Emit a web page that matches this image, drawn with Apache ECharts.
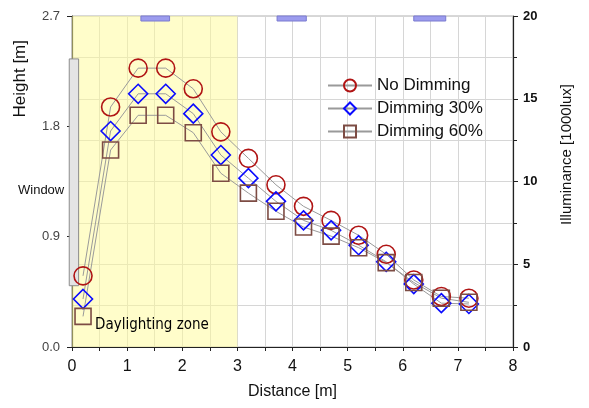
<!DOCTYPE html>
<html>
<head>
<meta charset="utf-8">
<script src="https://cdn.jsdelivr.net/npm/echarts@6/dist/echarts.min.js"></script>
<style>
  html, body { margin: 0; padding: 0; background: #fff; }
  #chart { width: 589px; height: 408px; }
</style>
</head>
<body>
<div id="chart"></div>
<script>
// distance from window [m]
var distance = [0.2, 0.7, 1.2, 1.7, 2.2, 2.7, 3.2, 3.7, 4.2, 4.7, 5.2, 5.7, 6.2, 6.7, 7.2];
// illuminance [1000lux]
var noDimming = [4.3, 14.5, 16.85, 16.85, 15.6, 13.0, 11.4, 9.8, 8.5, 7.65, 6.75, 5.6, 4.05, 3.05, 2.95];
var dimming30 = [2.9, 13.05, 15.3, 15.3, 14.1, 11.6, 10.2, 8.8, 7.65, 7.05, 6.15, 5.15, 3.8, 2.65, 2.6];
var dimming60 = [1.85, 11.9, 14.0, 14.0, 12.95, 10.5, 9.3, 8.2, 7.25, 6.7, 6.0, 5.1, 3.9, 2.95, 2.7];
var seriesNames = ['No Dimming', 'Dimming 30%', 'Dimming 60%'];
var heightTicks = [0, 0.9, 1.8, 2.7];
// luminaires on the ceiling [from, to] in m
var lamps = [[1.25, 1.77], [3.72, 4.25], [6.2, 6.78]];
// window [x0, x1, bottom, top] in m
var windowBox = [[-0.05, 0.12, 0.5, 2.35]];
var zone = [0, 3];

function pairs(ys) {
	var out = [];
	for (var i = 0; i < distance.length; i++) {
		out.push([distance[i], ys[i]]);
	}
	return out;
}

function dataSeries(name, ys, symbol, size, color) {
	return {
		name: name,
		type: 'line',
		yAxisIndex: 1,
		data: pairs(ys),
		symbol: symbol,
		symbolSize: size,
		showAllSymbol: true,
		lineStyle: { color: '#9a9a9a', width: 1 },
		itemStyle: { color: 'rgba(0,0,0,0)', borderColor: color, borderWidth: 1.6 },
		emphasis: { disabled: true },
		z: 3
	};
}

var chart = echarts.init(document.getElementById('chart'), null, { renderer: 'canvas' });

var option = {
	animation: false,
	backgroundColor: '#fff',
	textStyle: { fontFamily: 'Liberation Sans, Arial, sans-serif' },
	grid: {
		left: 72, right: 76, top: 16, bottom: 61,
		show: true, borderColor: '#b0b0b0', borderWidth: 1
	},
	legend: {
		orient: 'vertical',
		left: 322, top: 72,
		itemWidth: 44, itemHeight: 15, itemGap: 6,
		textStyle: { fontSize: 17, color: '#111' },
		data: seriesNames
	},
	xAxis: {
		type: 'value',
		min: 0, max: 8, interval: 1,
		axisLine: { show: true, lineStyle: { color: '#222', width: 1.2 } },
		axisTick: { show: true, length: 4, lineStyle: { color: '#222' } },
		minorTick: { show: true, splitNumber: 2, length: 4, lineStyle: { color: '#222' } },
		axisLabel: { fontSize: 16, color: '#111', margin: 12 },
		splitLine: { show: true, lineStyle: { color: '#d6d6d6' } },
		minorSplitLine: { show: true, lineStyle: { color: '#d6d6d6' } },
		name: 'Distance [m]', nameLocation: 'middle', nameGap: 37,
		nameTextStyle: { fontSize: 16, color: '#111' }
	},
	yAxis: [{
		type: 'value',
		position: 'left',
		min: 0, max: 2.7, interval: 0.9,
		axisLine: { show: true, lineStyle: { color: '#222', width: 1.2 } },
		axisTick: { show: true, length: 5, lineStyle: { color: '#222' } },
		axisLabel: {
			fontSize: 13, color: '#444', margin: 12,
			formatter: function(v) { return v.toFixed(1); }
		},
		splitLine: { show: false }
	}, {
		type: 'value',
		position: 'right',
		min: 0, max: 20, interval: 5,
		axisLine: { show: true, lineStyle: { color: '#222', width: 1.2 } },
		axisTick: { show: true, length: 5, lineStyle: { color: '#222' } },
		minorTick: { show: true, splitNumber: 2, length: 4, lineStyle: { color: '#222' } },
		axisLabel: { fontSize: 13, fontWeight: 'bold', color: '#111', margin: 10 },
		splitLine: { show: true, lineStyle: { color: '#d6d6d6' } },
		minorSplitLine: { show: true, lineStyle: { color: '#d6d6d6' } }
	}],
	series: [
		{
			type: 'line',
			data: [],
			silent: true,
			z: 1,
			markArea: {
				silent: true,
				itemStyle: { color: 'rgba(255,252,150,0.5)' },
				data: [[{ xAxis: zone[0] }, { xAxis: zone[1] }]]
			}
		},
		{
			type: 'custom',
			silent: true,
			clip: false,
			z: 2,
			data: windowBox,
			renderItem: function(params, api) {
				var p0 = api.coord([api.value(0), api.value(3)]);
				var p1 = api.coord([api.value(1), api.value(2)]);
				return {
					type: 'rect',
					shape: { x: p0[0], y: p0[1], width: p1[0] - p0[0], height: p1[1] - p0[1] },
					style: { fill: '#e4e4e4', stroke: '#8c8c8c', lineWidth: 1 }
				};
			}
		},
		{
			type: 'custom',
			silent: true,
			clip: false,
			z: 4,
			data: lamps,
			renderItem: function(params, api) {
				var p0 = api.coord([api.value(0), heightTicks[3]]);
				var p1 = api.coord([api.value(1), heightTicks[3]]);
				return {
					type: 'rect',
					shape: { x: p0[0], y: p0[1], width: p1[0] - p0[0], height: 5 },
					style: { fill: '#9c9cee', stroke: '#7a7ad0', lineWidth: 1 }
				};
			}
		},
		dataSeries(seriesNames[0], noDimming, 'circle', 18, '#b01414'),
		dataSeries(seriesNames[1], dimming30, 'diamond', 19, '#0a0aff'),
		dataSeries(seriesNames[2], dimming60, 'rect', 16, '#7d4c44')
	],
	graphic: [
		{
			type: 'text', left: 12, top: 40, rotation: Math.PI / 2, z: 10,
			style: { text: 'Height [m]', fontSize: 17, fill: '#111', fontFamily: 'Liberation Sans, Arial, sans-serif' }
		},
		{
			type: 'text', left: 559, top: 84, rotation: Math.PI / 2, z: 10,
			style: { text: 'Illuminance [1000lux]', fontSize: 15, fill: '#111', fontFamily: 'Liberation Sans, Arial, sans-serif' }
		},
		{
			type: 'text', left: 18, top: 184, z: 10,
			style: { text: 'Window', fontSize: 13, fill: '#111', fontFamily: 'Liberation Sans, Arial, sans-serif' }
		},
		{
			type: 'text', left: 95, top: 318, z: 10,
			style: { text: 'Daylighting zone', fontSize: 15, fill: '#000', fontFamily: 'DejaVu Sans Condensed, DejaVu Sans, sans-serif' }
		}
	]
};

chart.setOption(option);
</script>
</body>
</html>
